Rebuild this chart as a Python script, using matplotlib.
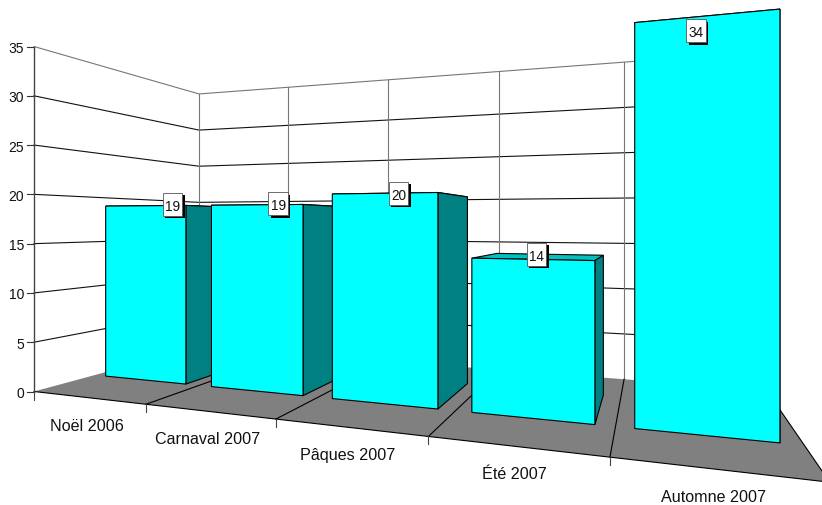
import matplotlib
matplotlib.use("Agg")
import matplotlib.pyplot as plt
from matplotlib.patches import Polygon, Rectangle

categories = ["Noël 2006", "Carnaval 2007", "Pâques 2007", "Été 2007", "Automne 2007"]
values = [19, 19, 20, 14, 34]
y_ticks = [0, 5, 10, 15, 20, 25, 30, 35]

W, H = 822, 506
# perspective camera: u = category axis, d = depth (0 front, 1 back), v = value
A, B, C, P, Q = 101.9, 237.4, 34.0, -0.069, 0.364
E, F, G, S = -15.2, 82.0, 392.5, 9.857
BAR_L, BAR_R, D0, D1 = 0.11, 0.88, 0.30, 0.70

def proj(u, d, v=0.0):
    w = 1 + P * u + Q * d
    return (A * u + B * d + C) / w, (E * u + F * d + G - S * v) / w

plt.rcParams["font.family"] = ["Liberation Sans", "DejaVu Sans"]
fig = plt.figure(figsize=(W / 100, H / 100), dpi=100)
ax = fig.add_axes([0, 0, 1, 1])
ax.set_xlim(0, W)
ax.set_ylim(H, 0)
ax.axis("off")

n = len(categories)
LW = 0.8
vmax = max(y_ticks)

# floor
ax.add_patch(Polygon([proj(0, 0), proj(n, 0), proj(n, 1), proj(0, 1)], closed=True,
                     fc="#808080", ec="none", zorder=1))
for a, b in [((0, 0), (n, 0)), ((n, 0), (n, 1))]:
    pa, pb = proj(*a), proj(*b)
    ax.plot([pa[0], pb[0]], [pa[1], pb[1]], color="black", lw=LW, zorder=2)
for i in range(1, n):
    pa, pb = proj(i, 0), proj(i, 1)
    ax.plot([pa[0], pb[0]], [pa[1], pb[1]], color="black", lw=LW, zorder=2)

# walls
for v in y_ticks:
    p0, p1, p2 = proj(0, 0, v), proj(0, 1, v), proj(n, 1, v)
    col = "#777777" if v == vmax else "#111111"
    if v > 0:
        ax.plot([p0[0], p1[0], p2[0]], [p0[1], p1[1], p2[1]], color=col, lw=LW, zorder=1.5)
    ax.plot([p0[0] - 7, p0[0]], [p0[1], p0[1]], color="#333333", lw=LW, zorder=2)
    ax.text(p0[0] - 10, p0[1], str(v), ha="right", va="center_baseline", fontsize=10, color="#111111")
for i in range(0, n + 1):
    p0, p1 = proj(i, 1, 0), proj(i, 1, vmax)
    ax.plot([p0[0], p1[0]], [p0[1], p1[1]], color="#777777", lw=LW, zorder=1.5)
p0, p1 = proj(0, 0, 0), proj(0, 0, vmax)
ax.plot([p0[0], p1[0]], [p0[1], p1[1]], color="#444444", lw=LW + 0.2, zorder=2)

# front ticks and category labels
for i in range(0, n + 1):
    p = proj(i, 0)
    ax.plot([p[0], p[0]], [p[1], p[1] + 8], color="#444444", lw=LW, zorder=2)
for i, name in enumerate(categories):
    p = proj(i + 0.5, 0)
    ax.text(p[0] - 1, p[1] + 27.5, name, ha="center", va="center", fontsize=11.6, color="#111111")

# bars, back to front
z = 3
for i, val in enumerate(values):
    l, r = i + BAR_L, i + BAR_R
    top = [proj(l, D0, val), proj(r, D0, val), proj(r, D1, val), proj(l, D1, val)]
    side = [proj(r, D0, 0), proj(r, D1, 0), proj(r, D1, val), proj(r, D0, val)]
    front = [proj(l, D0, 0), proj(r, D0, 0), proj(r, D0, val), proj(l, D0, val)]
    for pts, col in [(top, "#00C0C0"), (side, "#008080"), (front, "#00FFFF")]:
        ax.add_patch(Polygon(pts, closed=True, fc=col, ec="black", lw=LW, joinstyle="miter", zorder=z))
        z += 0.1

# value labels
for i, val in enumerate(values):
    cx, cy = proj(i + (BAR_L + BAR_R) / 2, (D0 + D1) / 2, val)
    cx -= 4.5
    cy -= 2.5
    bw, bh = 19.5, 23
    ax.add_patch(Rectangle((cx - bw / 2 + 2.5, cy - bh / 2 + 2.5), bw, bh, fc="black", ec="none", zorder=20))
    ax.add_patch(Rectangle((cx - bw / 2, cy - bh / 2), bw, bh, fc="white", ec="#555555", lw=0.6, zorder=21))
    ax.text(cx, cy, str(val), ha="center", va="center_baseline", fontsize=9.8, color="#111111", zorder=22)

fig.savefig("out.png", dpi=100)
